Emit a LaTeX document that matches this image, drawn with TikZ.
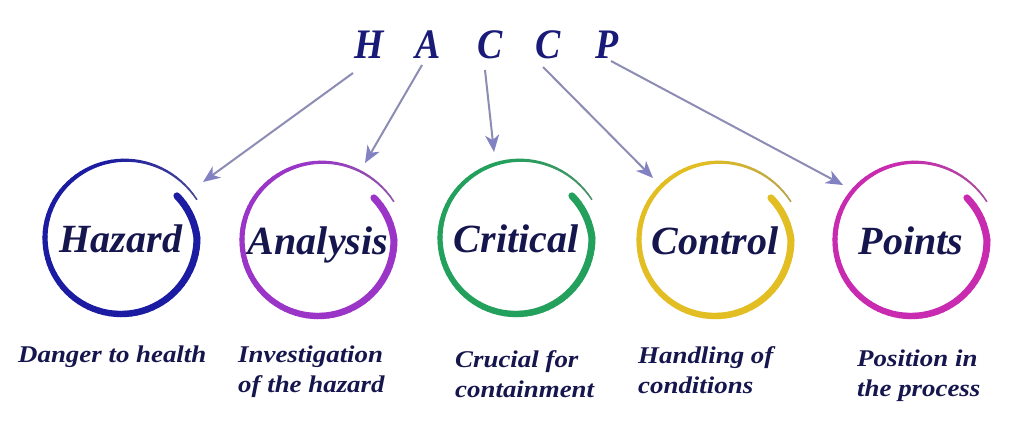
\documentclass[tikz,border=0pt]{standalone}
\usepackage{fontspec}
\setmainfont{Liberation Serif}
\newfontfamily\descfont[FakeStretch=1.12]{Liberation Serif}
\newfontfamily\titlefont[FakeStretch=0.9]{Liberation Serif}
\usetikzlibrary{arrows.meta,calc}
\definecolor{navy}{HTML}{16164E}
\definecolor{titleblue}{HTML}{1A1A78}
\definecolor{arrowline}{HTML}{8C8CB4}
\definecolor{arrowhead}{HTML}{8282C2}
\definecolor{ringhz}{HTML}{1C1CA2}
\definecolor{ringan}{HTML}{9A35C8}
\definecolor{ringcr}{HTML}{22A05C}
\definecolor{ringco}{HTML}{E2BE22}
\definecolor{ringpt}{HTML}{C82AB0}
\newcommand{\haccpring}[2]{%
  \foreach \i in {0,...,89}{%
    \pgfmathsetmacro{\ta}{\i/90}%
    \pgfmathsetmacro{\tb}{(\i+1)/90}%
    \pgfmathsetmacro{\aa}{370*\ta-37}%
    \pgfmathsetmacro{\ab}{370*\tb-37}%
    \pgfmathsetmacro{\ra}{76-6*max(0,1-10*\ta)+9*(max(0,(\ta-0.7)/0.3))^2}%
    \pgfmathsetmacro{\rb}{76-6*max(0,1-10*\tb)+9*(max(0,(\tb-0.7)/0.3))^2}%
    \pgfmathsetmacro{\w}{7-5.5*\ta*\ta}%
    \pgfmathsetmacro{\m}{100-45*max(0,(\ta-0.8)/0.2)}%
    \draw[line width=\w pt, color=#2!\m!gray, line cap=round]
      ($(#1)+(\aa:\ra)$) -- ($(#1)+(\ab:\rb)$);
  }%
}
\tikzset{
  letter/.style={font=\titlefont\bfseries\itshape\fontsize{42}{42}\selectfont, text=titleblue, inner sep=0pt, anchor=base},
  word/.style={circle, minimum size=156, inner sep=0pt, text height=28, text depth=0,
    font=\bfseries\itshape\fontsize{40}{40}\selectfont, text=navy},
  desc/.style={font=\descfont\bfseries\itshape\fontsize{24}{30}\selectfont, text=navy,
    align=left, anchor=base west, inner sep=0pt},
  arr/.style={draw=arrowline, line width=2pt,
    -{Stealth[length=17pt, width=14pt, inset=5pt, fill=arrowhead, color=arrowhead]}}
}
\begin{document}
\begin{tikzpicture}[x=1pt, y=-1pt]
\useasboundingbox[fill=white] (0,0) rectangle (1024,421);
% title letters
\node[letter] (H)  at (369,58) {H};
\node[letter] (A)  at (428,58) {A};
\node[letter] (C1) at (490,58) {C};
\node[letter] (C2) at (548,58) {C};
\node[letter] (P)  at (607,58) {P};
% circles with words
\node[word] (hz) at (121,238) {Hazard};
\node[word] (an) at (318,240) {Analysis};
\node[word] (cr) at (516,238) {Critical};
\node[word] (co) at (715,240) {Control};
\node[word] (pt) at (911,240) {Points};
\haccpring{hz}{ringhz}
\haccpring{an}{ringan}
\haccpring{cr}{ringcr}
\haccpring{co}{ringco}
\haccpring{pt}{ringpt}
% arrow ends
\coordinate (sH)  at ([shift={(-16,15)}]H.base);
\coordinate (sA)  at ([shift={(-6,7)}]A.base);
\coordinate (sC1) at ([shift={(-5,12)}]C1.base);
\coordinate (sC2) at ([shift={(-5,9)}]C2.base);
\coordinate (sP)  at ([shift={(4,3)}]P.base);
\coordinate (tH)  at ([shift={(82,-56)}]hz.center);
\coordinate (tA)  at ([shift={(47,-77)}]an.center);
\coordinate (tC1) at ([shift={(-22,-86)}]cr.center);
\coordinate (tC2) at ([shift={(-62,-62)}]co.center);
\coordinate (tP)  at ([shift={(-68,-55)}]pt.center);
\draw[arr] (sH) -- (tH);
\draw[arr] (sA) -- (tA);
\draw[arr] (sC1) -- (tC1);
\draw[arr] (sC2) -- (tC2);
\draw[arr] (sP) -- (tP);
% descriptions (base anchor = baseline of last line)
\node[desc] (d1) at (18,362) {Danger to health};
\node[desc] (d2) at (238,392) {Investigation\\of the hazard};
\node[desc] (d3) at (455,397) {Crucial for\\containment};
\node[desc] (d4) at (638,393) {Handling of\\conditions};
\node[desc] (d5) at (857,396) {Position in\\the process};
\end{tikzpicture}
\end{document}
